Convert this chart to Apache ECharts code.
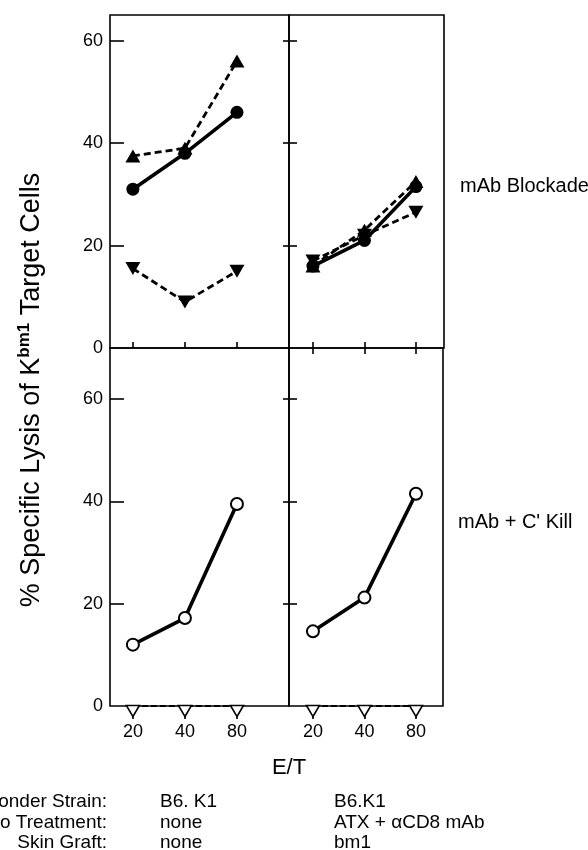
<!DOCTYPE html>
<html>
<head>
<meta charset="utf-8">
<script src="https://cdn.jsdelivr.net/npm/echarts@6/dist/echarts.min.js"></script>
<style>
  html, body { margin: 0; padding: 0; background: #fff; }
  #chart { width: 588px; height: 850px; }
</style>
</head>
<body>
<div id="chart"></div>
<script>
// E/T 比例（x 轴位置 1,2,3）
const etLabels = ['20', '40', '80']
const etPos = [1, 2, 3]

// 上排：mAb Blockade
const blockLeftCircle = [31, 38, 46]
const blockLeftUp = [37.5, 39, 56]
const blockLeftDown = [15.5, 9, 15]
const blockRightCircle = [16, 21, 31.5]
const blockRightUp = [16, 23, 32.5]
const blockRightDown = [17, 22, 26.5]

// 下排：mAb + C' Kill
const killLeftOpen = [12, 17.2, 39.5]
const killRightOpen = [14.6, 21.2, 41.5]
const killLeftOpenDown = [0, 0, 0]
const killRightOpenDown = [0, 0, 0]

const yTicks = [20, 40, 60]
const yLabels = [0, 20, 40, 60]

const rowTitles = ['onder Strain:', 'o Treatment:', 'Skin Graft:']
const colLeft = ['B6. K1', 'none', 'none']
const colRight = ['B6.K1', 'ATX + \u03b1CD8 mAb', 'bm1']

const font = 'Liberation Sans, Arial, Helvetica, sans-serif'

const pts = (vals) => vals.map((v, i) => [etPos[i], v])

const chart = echarts.init(document.getElementById('chart'))

const gridBase = {
  show: true,
  borderColor: '#000',
  borderWidth: 1.6,
  backgroundColor: 'transparent',
  containLabel: false,
}

// x 轴
const xAxisBase = (gridIndex, min, max, opt) => ({
  type: 'value',
  gridIndex: gridIndex,
  min: min,
  max: max,
  axisLine: { show: false },
  splitLine: { show: false },
  axisTick: {
    show: true,
    customValues: etPos,
    inside: opt.inside,
    length: opt.len,
    lineStyle: { color: '#000', width: 1.6 },
  },
  axisLabel: opt.labels
    ? {
        show: true,
        customValues: etPos,
        formatter: (v) => etLabels[etPos.indexOf(v)],
        color: '#000',
        fontSize: 18,
        fontFamily: font,
        margin: 17,
      }
    : { show: false },
  position: opt.position || 'bottom',
})

// y 轴
const yAxisBase = (gridIndex, max, opt) => ({
  type: 'value',
  gridIndex: gridIndex,
  min: 0,
  max: max,
  position: opt.position || 'left',
  axisLine: { show: false },
  splitLine: { show: false },
  axisTick: {
    show: true,
    customValues: yTicks,
    inside: true,
    length: opt.len,
    lineStyle: { color: '#000', width: 1.6 },
  },
  axisLabel: opt.labels
    ? {
        show: true,
        customValues: yLabels,
        color: '#000',
        fontSize: 18,
        fontFamily: font,
        margin: 7,
      }
    : { show: false },
})

const solid = (data, x, y) => ({
  type: 'line',
  data: pts(data),
  xAxisIndex: x,
  yAxisIndex: y,
  symbol: 'circle',
  symbolSize: 13,
  itemStyle: { color: '#000' },
  lineStyle: { color: '#000', width: 3.6 },
  clip: false,
  z: 5,
})

const dashedTri = (data, x, y, down) => ({
  type: 'line',
  data: pts(data),
  xAxisIndex: x,
  yAxisIndex: y,
  symbol: 'triangle',
  symbolSize: [15, 13],
  symbolRotate: down ? 180 : 0,
  itemStyle: { color: '#000' },
  lineStyle: { color: '#000', width: 2.8, type: [7, 4] },
  clip: false,
  z: 4,
})

const openCircle = (data, x, y) => ({
  type: 'line',
  data: pts(data),
  xAxisIndex: x,
  yAxisIndex: y,
  symbol: 'circle',
  symbolSize: 12,
  itemStyle: { color: '#fff', borderColor: '#000', borderWidth: 2 },
  lineStyle: { color: '#000', width: 3.6 },
  clip: false,
  z: 5,
})

const openDown = (data, x, y) => ({
  type: 'line',
  data: pts(data),
  xAxisIndex: x,
  yAxisIndex: y,
  symbol: 'triangle',
  symbolSize: [13, 11],
  symbolRotate: 180,
  symbolOffset: [0, 5],
  itemStyle: { color: '#fff', borderColor: '#000', borderWidth: 1.6 },
  lineStyle: { color: '#000', width: 2, type: [6, 3] },
  clip: false,
  z: 6,
})

const texts = []
// 右侧说明
texts.push({
  type: 'text', left: 460, top: 176,
  style: { text: 'mAb Blockade', fontSize: 20, fontFamily: font, fill: '#000' },
})
texts.push({
  type: 'text', left: 458, top: 512,
  style: { text: "mAb + C' Kill", fontSize: 20, fontFamily: font, fill: '#000' },
})
// E/T
texts.push({
  type: 'text', x: 289, y: 768,
  style: { text: 'E/T', fontSize: 22, fontFamily: font, fill: '#000', align: 'center', verticalAlign: 'middle' },
})
// y 轴标题
texts.push({
  type: 'text', x: 32, y: 390, rotation: Math.PI / 2,
  style: {
    text: '{a|% Specific Lysis of K}{s|bm1}{a| Target Cells}',
    align: 'center',
    verticalAlign: 'middle',
    fill: '#000',
    rich: {
      a: { fontSize: 27, fontFamily: font, lineHeight: 32, fill: '#000' },
      s: { fontSize: 17, fontFamily: font, fontWeight: 'bold', lineHeight: 16, verticalAlign: 'top', fill: '#000' },
    },
  },
})
// 底部表格
rowTitles.forEach((t, i) => {
  const y = 802 + i * 20.5
  texts.push({
    type: 'text', x: 107, y: y,
    style: { text: t, fontSize: 19, fontFamily: font, fill: '#000', align: 'right', verticalAlign: 'middle' },
  })
  texts.push({
    type: 'text', x: 160, y: y,
    style: { text: colLeft[i], fontSize: 19, fontFamily: font, fill: '#000', align: 'left', verticalAlign: 'middle' },
  })
  texts.push({
    type: 'text', x: 334, y: y,
    style: { text: colRight[i], fontSize: 19, fontFamily: font, fill: '#000', align: 'left', verticalAlign: 'middle' },
  })
})

const option = {
  animation: false,
  backgroundColor: '#fff',
  grid: [
    Object.assign({ left: 110, top: 15, width: 179, height: 333 }, gridBase),
    Object.assign({ left: 289, top: 15, width: 155, height: 333 }, gridBase),
    Object.assign({ left: 110, top: 348, width: 179, height: 358 }, gridBase),
    Object.assign({ left: 289, top: 348, width: 154, height: 358 }, gridBase),
  ],
  xAxis: [
    xAxisBase(0, 0.56, 4.0, { inside: true, len: 6 }),
    xAxisBase(1, 0.535, 3.545, { inside: true, len: 6 }),
    xAxisBase(2, 0.56, 4.0, { inside: false, len: 13, labels: true }),
    xAxisBase(3, 0.535, 3.525, { inside: false, len: 13, labels: true }),
    xAxisBase(2, 0.56, 4.0, { inside: true, len: 6, position: 'top' }),
    xAxisBase(3, 0.535, 3.525, { inside: true, len: 6, position: 'top' }),
  ],
  yAxis: [
    yAxisBase(0, 65, { len: 14, labels: true }),
    yAxisBase(0, 65, { len: 6, position: 'right' }),
    yAxisBase(1, 65, { len: 8 }),
    yAxisBase(2, 70, { len: 14, labels: true }),
    yAxisBase(2, 70, { len: 6, position: 'right' }),
    yAxisBase(3, 70, { len: 8 }),
  ],
  graphic: texts,
  series: [
    dashedTri(blockLeftUp, 0, 0, false),
    dashedTri(blockLeftDown, 0, 0, true),
    solid(blockLeftCircle, 0, 0),
    dashedTri(blockRightUp, 1, 2, false),
    dashedTri(blockRightDown, 1, 2, true),
    solid(blockRightCircle, 1, 2),
    openCircle(killLeftOpen, 2, 3),
    openDown(killLeftOpenDown, 2, 3),
    openCircle(killRightOpen, 3, 5),
    openDown(killRightOpenDown, 3, 5),
  ],
}

option && chart.setOption(option)
</script>
</body>
</html>
